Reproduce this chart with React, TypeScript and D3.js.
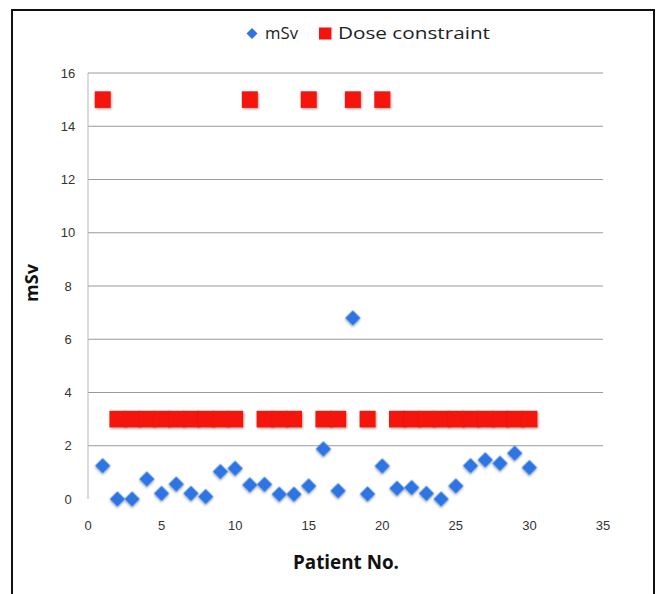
import React from "react";
import * as d3 from "d3";

const patientNo = [1, 2, 3, 4, 5, 6, 7, 8, 9, 10, 11, 12, 13, 14, 15, 16, 17, 18, 19, 20, 21, 22, 23, 24, 25, 26, 27, 28, 29, 30];
const mSv = [1.25, 0, 0, 0.75, 0.21, 0.56, 0.21, 0.09, 1.03, 1.15, 0.53, 0.55, 0.18, 0.18, 0.49, 1.88, 0.31, 6.8, 0.19, 1.24, 0.4, 0.43, 0.21, 0, 0.49, 1.25, 1.47, 1.34, 1.72, 1.18];
const doseConstraint = [15, 3, 3, 3, 3, 3, 3, 3, 3, 3, 15, 3, 3, 3, 15, 3, 3, 15, 3, 15, 3, 3, 3, 3, 3, 3, 3, 3, 3, 3];
const xTicks = [0, 5, 10, 15, 20, 25, 30, 35];
const yTicks = [0, 2, 4, 6, 8, 10, 12, 14, 16];

const W = 660;
const H = 594;

export default function App() {
  const x = d3.scaleLinear().domain([0, 35]).range([88, 603]);
  const y = d3.scaleLinear().domain([0, 16]).range([499, 73]);
  const diamond = d3.symbol(d3.symbolSquare, 118)() as string;
  const tickFont = "'Liberation Sans', Arial, sans-serif";
  const sq = 16;

  return (
    <svg
      width={W}
      height={H}
      viewBox={`0 0 ${W} ${H}`}
      style={{ position: "absolute", left: 0, top: 0, background: "#fff" }}
    >
      <defs>
        <filter id="sh" x="-30%" y="-30%" width="160%" height="160%">
          <feDropShadow dx="1" dy="1.2" stdDeviation="0.9" floodColor="#000" floodOpacity="0.35" />
        </filter>
      </defs>
      <rect x={12} y={10} width={642} height={600} fill="#fff" stroke="#111" strokeWidth={2} />

      {/* gridlines */}
      {yTicks.filter((t) => t > 0).map((t) => (
        <line key={"g" + t} x1={x(0)} x2={x(35)} y1={y(t)} y2={y(t)} stroke="#9a9a9a" strokeWidth={1} />
      ))}
      <line x1={x(0)} x2={x(0)} y1={y(16)} y2={y(0)} stroke="#b5b5b5" strokeWidth={1} />

      {/* y tick labels */}
      {yTicks.map((t) => (
        <text key={"y" + t} x={68} y={y(t)} dy="0.35em" textAnchor="middle" fontSize={13} fontFamily={tickFont} fill="#333">
          {t}
        </text>
      ))}
      {/* x tick labels */}
      {xTicks.map((t) => (
        <text key={"x" + t} x={x(t)} y={525} dy="0.35em" textAnchor="middle" fontSize={13} fontFamily={tickFont} fill="#333">
          {t}
        </text>
      ))}

      {/* dose constraint squares */}
      {patientNo.map((p, i) => (
        <rect
          key={"d" + p}
          x={x(p) - sq / 2}
          y={y(doseConstraint[i]) - sq / 2 - 0.3}
          width={sq}
          height={sq + 0.6}
          fill="#f4140c"
          filter="url(#sh)"
        />
      ))}

      {/* mSv diamonds */}
      {patientNo.map((p, i) => (
        <path
          key={"m" + p}
          d={diamond}
          transform={`translate(${x(p)},${y(mSv[i])}) rotate(45)`}
          fill="#2f74e4"
          filter="url(#sh)"
        />
      ))}

      {/* legend */}
      <path d={d3.symbol(d3.symbolSquare, 60)() as string} transform="translate(252,33.5) rotate(45)" fill="#2f74e4" />
      <text x={265} y={33.5} dy="0.35em" fontSize={16} fontFamily="'Open Sans', sans-serif" fill="#222" textLength={33} lengthAdjust="spacingAndGlyphs">
        mSv
      </text>
      <rect x={319} y={27.5} width={12.5} height={12} fill="#f4140c" />
      <text x={338} y={33.5} dy="0.35em" fontSize={16} fontFamily="'Open Sans', sans-serif" fill="#222" textLength={152} lengthAdjust="spacingAndGlyphs">
        Dose constraint
      </text>

      {/* axis titles */}
      <text x={346} y={569} textAnchor="middle" fontSize={19} fontWeight="bold" fontFamily="'Open Sans', sans-serif" fill="#111" textLength={106} lengthAdjust="spacingAndGlyphs">
        Patient No.
      </text>
      <text
        transform={`translate(38,283) rotate(-90)`}
        textAnchor="middle"
        fontSize={18}
        fontWeight="bold"
        fontFamily="'Open Sans', sans-serif"
        fill="#111"
      >
        mSv
      </text>
    </svg>
  );
}
